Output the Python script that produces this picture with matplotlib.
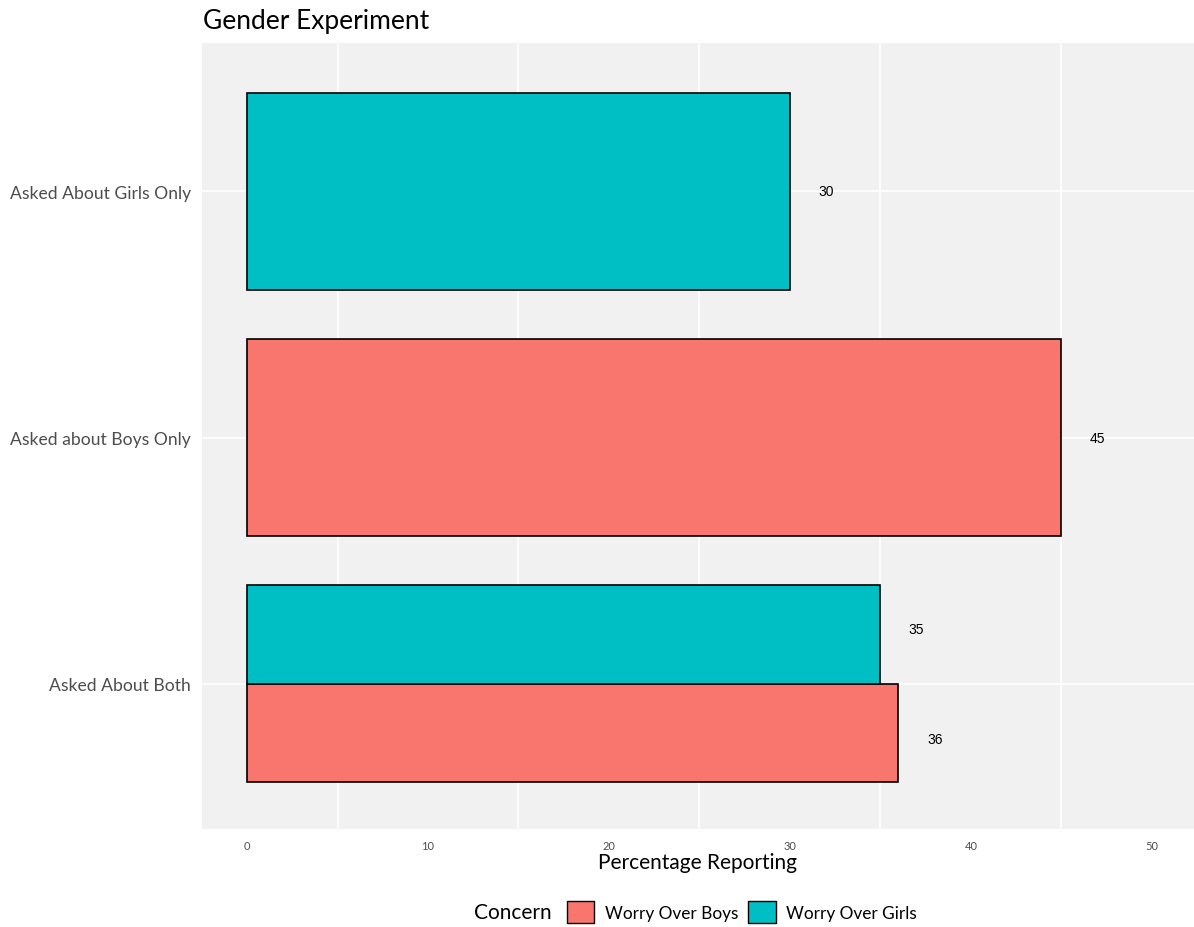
import matplotlib.pyplot as plt
from matplotlib.patches import Patch

# data
categories = ["Asked About Both", "Asked about Boys Only", "Asked About Girls Only"]
concerns = ["Worry Over Boys", "Worry Over Girls"]
bar_category = ["Asked About Both", "Asked About Both", "Asked about Boys Only", "Asked About Girls Only"]
bar_concern = ["Worry Over Boys", "Worry Over Girls", "Worry Over Boys", "Worry Over Girls"]
bar_value = [36, 35, 45, 30]

colors = {"Worry Over Boys": "#F8766D", "Worry Over Girls": "#00BFC4"}
font = ["Lato", "DejaVu Sans"]
plt.rcParams['font.family'] = font

W, H = 1194, 928
fig = plt.figure(figsize=(W / 100, H / 100), dpi=100)
ax = fig.add_axes([202 / W, 1 - 830 / H, (1194 - 202) / W, (830 - 44) / H])
ax.set_facecolor("#F1F1F1")

# dodge: groups in a category share width 0.8
for cat_i, cat in enumerate(categories):
    idx = [i for i, c in enumerate(bar_category) if c == cat]
    n = len(idx)
    w = 0.8 / n
    for k, i in enumerate(idx):
        y = cat_i - 0.4 + w * (k + 0.5)
        ax.barh(y, bar_value[i], height=w, color=colors[bar_concern[i]],
                edgecolor="black", linewidth=1.2, zorder=3)
        # labels use dodge width 0.9
        ly = cat_i if n == 1 else cat_i - 0.45 + 0.45 * (k + 0.5)
        ax.text(bar_value[i] + 2, ly, str(bar_value[i]), ha="center", va="center",
                fontsize=10, family="Liberation Sans", zorder=4)

ax.set_xlim(-2.49, 52.33)
ax.set_ylim(-0.589, 2.603)
ax.set_yticks(range(len(categories)))
ax.set_yticklabels(categories, fontsize=12.6, color="#4D4D4D")
ax.set_xticks(range(0, 51, 10))
ax.set_xticks(range(5, 50, 10), minor=True)
ax.tick_params(axis="x", labelsize=8, colors="#4D4D4D", length=0, pad=8)
ax.tick_params(axis="x", which="minor", length=0)
ax.tick_params(axis="y", length=0, pad=8)
ax.grid(False)
ax.grid(axis="x", which="minor", color="white", linewidth=1.2, zorder=0)
ax.grid(axis="y", which="major", color="white", linewidth=1.2, zorder=0)
ax.set_axisbelow(True)
for s in ax.spines.values():
    s.set_visible(False)

ax.set_xlabel("Percentage Reporting", fontsize=15, labelpad=1)
fig.text(203 / W, 1 - 22 / H, "Gender Experiment", fontsize=19, ha="left", va="center")

# legend with title at the left
fig.text(552 / W, 1 - 913 / H, "Concern", fontsize=15, ha="right", va="center")
handles = [Patch(facecolor=colors[c], edgecolor="black", linewidth=1.0, label=c) for c in concerns]
fig.legend(handles=handles, loc="center left", bbox_to_anchor=(560 / W, 1 - 913 / H),
           ncol=2, frameon=False, fontsize=12.4, handlelength=1.6, handleheight=1.6,
           handletextpad=0.6, columnspacing=0.6, borderaxespad=0)

fig.savefig("out.png", dpi=100)
